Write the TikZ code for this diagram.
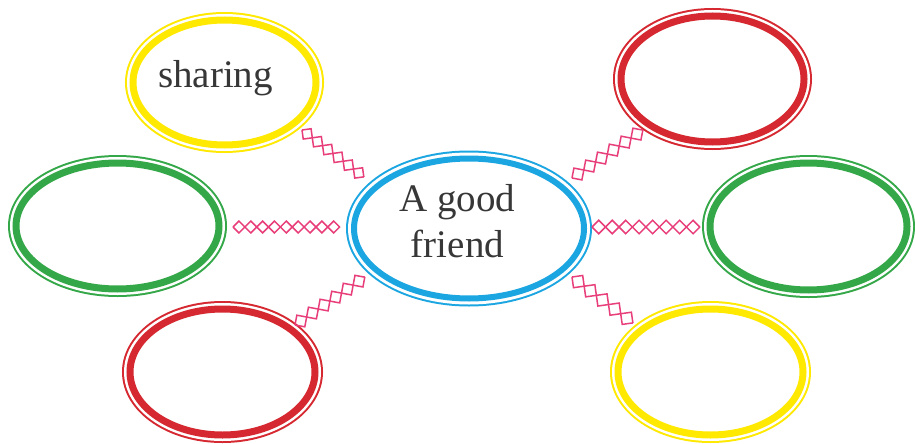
\documentclass[tikz,border=0pt]{standalone}
\usepackage{fontspec}
\setmainfont{Liberation Serif}
\usetikzlibrary{shapes.geometric,decorations.pathmorphing}
\definecolor{yellowc}{RGB}{255,233,0}
\definecolor{redc}{RGB}{214,40,48}
\definecolor{greenc}{RGB}{52,168,72}
\definecolor{bluec}{RGB}{27,166,226}
\definecolor{pinkc}{RGB}{232,62,122}
\definecolor{textc}{RGB}{55,55,55}
\newcommand\ringtext[3]{\raisebox{#2}[0pt][0pt]{\makebox[0pt]{\kern#1\relax #3}}}
\newcommand\diachain[3]{%
  \draw[chainline, decoration={zigzag, segment length=#3, amplitude=#3/4}] (#1) -- (#2);
  \draw[chainline, decoration={zigzag, mirror, segment length=#3, amplitude=#3/4}] (#1) -- (#2);}
\tikzset{
  ring/.style={ellipse, fill=white, draw=#1, line width=7pt, inner sep=0pt, outer sep=0pt,
    preaction={draw=#1, line width=16pt}, preaction={draw=white, line width=12pt},
    text=textc, font=\fontsize{39pt}{46pt}\selectfont},
  chainline/.style={draw=pinkc, line width=1.5pt, decorate}
}
\begin{document}
\begin{tikzpicture}[x=1pt,y=-1pt]
\useasboundingbox (0,0) rectangle (915,444);
\fill[white] (0,0) rectangle (915,444);
% ellipses
\node[ring=bluec, line width=6pt, minimum width=230pt, minimum height=140pt] (c) at (469,228.5)
  {\ringtext{-23pt}{16.8pt}{\begin{tabular}[t]{@{}c@{}}A good\\friend\end{tabular}}};
\node[ring=yellowc, minimum width=183pt, minimum height=125pt] (ytl) at (224.5,82.5)
  {\ringtext{-18pt}{-4.5pt}{sharing}};
\node[ring=redc, minimum width=183pt, minimum height=126pt] (rtr) at (712.5,79) {};
\node[ring=greenc, minimum width=203pt, minimum height=126pt] (gl) at (117.5,226) {};
\node[ring=greenc, minimum width=197pt, minimum height=127pt] (gr) at (808.5,226.5) {};
\node[ring=redc, minimum width=185pt, minimum height=126pt] (rbl) at (222.5,372) {};
\node[ring=yellowc, minimum width=185pt, minimum height=126pt] (ybr) at (710.5,372) {};
% chain end points
\coordinate (ul1) at (302,130); \coordinate (ul2) at (364,177);
\coordinate (ur1) at (572,178); \coordinate (ur2) at (643,130);
\coordinate (l1) at (233,227);  \coordinate (l2) at (340,227);
\coordinate (r1) at (592,227);  \coordinate (r2) at (700,227);
\coordinate (ll1) at (295,325); \coordinate (ll2) at (365,277);
\coordinate (lr1) at (572,277); \coordinate (lr2) at (633,323);
% chains
\diachain{ul1}{ul2}{25.85pt}
\diachain{ur1}{ur2}{28.5pt}
\diachain{l1}{l2}{23.7pt}
\diachain{r1}{r2}{26.95pt}
\diachain{ll1}{ll2}{28.2pt}
\diachain{lr1}{lr2}{30.5pt}
\end{tikzpicture}
\end{document}
